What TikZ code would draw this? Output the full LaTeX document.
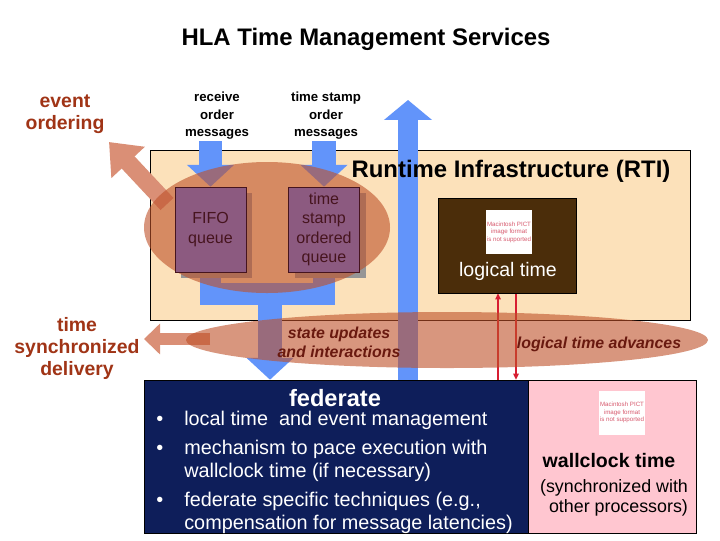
\documentclass[tikz,border=0pt]{standalone}
\usepackage{fontspec}
\setmainfont{Liberation Sans}
\usetikzlibrary{arrows.meta,shapes.geometric}
\definecolor{rtitan}{RGB}{252,225,186}
\definecolor{msgblue}{RGB}{98,148,250}
\definecolor{blobred}{RGB}{190,80,40}
\definecolor{fatorange}{RGB}{218,143,118}
\definecolor{labelred}{RGB}{160,52,22}
\definecolor{queuepurple}{RGB}{140,90,128}
\definecolor{queuetext}{RGB}{70,20,30}
\definecolor{shadowgray}{RGB}{150,150,150}
\definecolor{ltbrown}{RGB}{75,45,10}
\definecolor{fednavy}{RGB}{14,30,90}
\definecolor{wallpink}{RGB}{255,198,208}
\definecolor{advred}{RGB}{215,30,50}
\definecolor{italred}{RGB}{105,25,15}
\definecolor{pictred}{RGB}{215,90,110}
\newcommand{\pxu}{0.025cm}
\pgfdeclarelayer{bg}
\pgfdeclarelayer{mid}
\pgfdeclarelayer{blob}
\pgfsetlayers{bg,mid,blob,main}

\begin{document}
\begin{tikzpicture}
            [x=\pxu,y=-\pxu,
             title/.style={font=\fontsize{17}{20}\selectfont\bfseries,inner sep=1pt},
             sidelbl/.style={text=labelred,font=\fontsize{13.8}{15.8}\selectfont\bfseries,align=center,inner sep=1pt},
             msglbl/.style={font=\fontsize{9.4}{12.4}\selectfont\bfseries,align=center,inner sep=1pt},
             queuebox/.style={draw=queuetext,fill=queuepurple,text=queuetext,minimum width=71*\pxu,minimum height=85*\pxu,
                              align=center,font=\fontsize{11.4}{13.9}\selectfont,inner sep=0pt},
             shadowbox/.style={fill=shadowgray,minimum width=71*\pxu,minimum height=85*\pxu,inner sep=0pt},
             blob/.style={ellipse,fill=blobred,fill opacity=0.6,inner sep=0pt},
             pict/.style={fill=white,minimum width=46*\pxu,minimum height=44*\pxu,text=pictred,
                          font=\fontsize{4.4}{5.4}\selectfont,align=center,inner sep=0pt},
             advlbl/.style={text=italred,font=\fontsize{11.3}{13.5}\selectfont\bfseries\itshape,align=center,inner sep=1pt},
             fatblue/.style={msgblue,line width=17pt,-{Triangle[length=15.6pt,width=32.7pt]}},
             bigblue/.style={msgblue,line width=14.9pt,-{Triangle[length=14.2pt,width=33.4pt]}},
             bluebar/.style={msgblue,line width=15.6pt},
             evarrow/.style={fatorange,line width=12.6pt,-{Triangle[length=19.9pt,width=31.3pt]}},
             syncarrow/.style={fatorange,line width=9.2pt,-{Triangle[length=11.4pt,width=21.3pt]}},
             advline/.style={advred,line width=1.4pt,-{Triangle[length=4.3pt,width=3.8pt]}}]
            \useasboundingbox (0,0) rectangle (720,540);
            %
            \node[title] (title) at (366,39) {HLA Time Management Services};
            \node[sidelbl] (evlbl) at (65,114) {event\\ordering};
            \node[sidelbl] (synclbl) at (77,348.5) {time\\synchronized\\delivery};
            \node[msglbl] (rcvlbl) at (217,116) {receive\\order\\messages};
            \node[msglbl] (tslbl) at (326,116) {time stamp\\order\\messages};
            %
            \begin{pgfonlayer}{bg}
            \node[draw,fill=rtitan,minimum width=540*\pxu,minimum height=170*\pxu,inner sep=0pt] (rti) at (420,235) {};
            \end{pgfonlayer}
            \node[title] (rtititle) at (511,171) {Runtime Infrastructure (RTI)};
            %
            \node[queuebox] (fifo) at (210.5,229.5) {FIFO\\queue};
            \node[queuebox] (tsq) at (324,229.5) {time\\stamp\\ordered\\queue};
            %
            \node[draw,fill=ltbrown,minimum width=138*\pxu,minimum height=95*\pxu,inner sep=0pt] (lt) at (507,245.5) {};
            \node[pict] (ltpict) at (509,232) {Macintosh PICT\\image format\\is not supported};
            \node[text=white,font=\fontsize{13.9}{16}\selectfont,inner sep=1pt] (ltlbl) at (508,271) {logical time};
            %
            \node[advlbl] (upd) at (339,342) {state updates\\and interactions};
            \node[advlbl] (adv) at (599,344) {logical time advances};
            %
            \node[draw,fill=fednavy,minimum width=384*\pxu,minimum height=153*\pxu,inner sep=0pt] (fed) at (336,456.5) {};
            \node[text=white,font=\fontsize{16.8}{20}\selectfont\bfseries,inner sep=0pt] (fedtitle) at (335,398) {federate};
            \node[text=white,font=\fontsize{14.1}{16.4}\selectfont,anchor=base west,inner sep=0pt] (feditems) at (156,425)
                {\begin{tabular}[t]{@{}l@{\hspace{15pt}}l@{}}
                 \textbullet & local time\ \ and event management\\[4.3pt]
                 \textbullet & mechanism to pace execution with\\
                             & wallclock time (if necessary)\\[4.3pt]
                 \textbullet & federate specific techniques (e.g.,\\
                             & compensation for message latencies)
                 \end{tabular}};
            %
            \node[draw,fill=wallpink,minimum width=168*\pxu,minimum height=153*\pxu,inner sep=0pt] (wall) at (612,456.5) {};
            \node[pict] (wallpict) at (622,412.5) {Macintosh PICT\\image format\\is not supported};
            \node[font=\fontsize{13.9}{16}\selectfont\bfseries,inner sep=1pt] (walllbl) at (609,461) {wallclock time};
            \node[font=\fontsize{12.7}{14.2}\selectfont,align=right,inner sep=1pt] (wallnote) at (614,498) {(synchronized with\hspace{6pt}\\other processors)};
            %
            \coordinate (evtail) at (167,204);
            \coordinate (evtip) at (109,142);
            \coordinate (synctail) at (210,339);
            \coordinate (synctip) at (144,339);
            \coordinate (rtiup) at (408,100);
            \coordinate (join) at (270,294);
            \coordinate (advup) at (498,0);
            \coordinate (advdown) at (516,0);
            %
            \begin{pgfonlayer}{mid}
            \draw[advline] (fed.north -| advup) -- (lt.south -| advup);
            \draw[advline] (lt.south -| advdown) -- (fed.north -| advdown);
            \draw[evarrow] (evtail) -- (evtip);
            \draw[syncarrow] (synctail) -- (synctip);
            \draw[fatblue] (fifo.north |- rcvlbl.south) -- (fifo.north);
            \draw[fatblue] (tsq.north |- tslbl.south) -- (tsq.north);
            \draw[bluebar] (fifo.south) |- (join) -| (tsq.south);
            \draw[fatblue] (join) -- (fed.north -| join);
            \draw[bigblue] (fed.north -| rtiup) -- (rtiup);
            \node[shadowbox] at (216.5,235.5) {};
            \node[shadowbox] at (330,235.5) {};
            \end{pgfonlayer}
            %
            \begin{pgfonlayer}{blob}
            \node[blob,minimum width=246*\pxu,minimum height=131*\pxu] (orderblob) at (267,227.5) {};
            \node[blob,minimum width=522*\pxu,minimum height=56*\pxu] (deliverblob) at (447,340) {};
            \end{pgfonlayer}
        \end{tikzpicture}
\end{document}
